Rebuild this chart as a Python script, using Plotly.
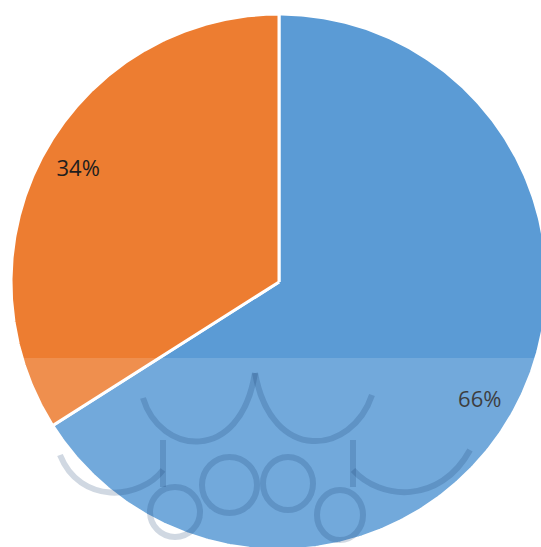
import numpy as np
import plotly.graph_objects as go

labels = ["Blue share", "Orange share"]
values = [66, 34]
colors = ["#5B9BD5", "#ED7D31"]
text_labels = ["66%", "34%"]
label_dy = [9, -1]

W, H = 541, 547
cx, cy, R = 279, 282, 268

fig = go.Figure()
total = sum(values)
start = 0.0
for lab, v, col, tl, dy in zip(labels, values, colors, text_labels, label_dy):
    frac = v / total
    t = np.linspace(start, start + frac, 400) * 2 * np.pi
    xs = np.concatenate([[cx], cx + R * np.sin(t), [cx]])
    ys = np.concatenate([[cy], cy - R * np.cos(t), [cy]])
    fig.add_trace(go.Scatter(x=xs, y=ys, mode="lines", fill="toself",
                             fillcolor=col, line=dict(color="white", width=3),
                             hoverinfo="skip", showlegend=False, name=lab))
    mid = (start + frac / 2) * 2 * np.pi
    rl = 0.855 * R
    fig.add_trace(go.Scatter(x=[cx + rl * np.sin(mid)], y=[cy - rl * np.cos(mid) + dy],
                             mode="text", text=[tl],
                             textfont=dict(family="Open Sans, Noto Sans", size=22, color="#1e1e1e"),
                             hoverinfo="skip", showlegend=False))
    start += frac

# translucent white band over the lower part
fig.add_shape(type="rect", xref="x", yref="y", x0=0, x1=W, y0=358, y1=H,
              fillcolor="rgba(255,255,255,0.14)", line=dict(width=0), layer="above")

# faint decorative watermark
wm = dict(color="rgba(20,60,110,0.2)", width=6)
paths = [
    "M143,398 C160,455 240,465 255,373",
    "M255,373 C272,465 352,455 372,395",
    "M163,440 L163,487",
    "M353,440 L353,487",
    "M60,455 C80,505 140,500 163,470",
    "M353,470 C380,500 440,505 470,450",
]
for p in paths:
    fig.add_shape(type="path", xref="x", yref="y", path=p, line=wm, layer="above")
for (x0, y0, x1, y1) in [(202, 457, 257, 513), (263, 457, 313, 510),
                         (150, 487, 200, 537), (317, 490, 363, 540)]:
    fig.add_shape(type="circle", xref="x", yref="y", x0=x0, y0=y0, x1=x1, y1=y1,
                  line=wm, layer="above")

fig.update_layout(
    width=W, height=H, margin=dict(l=0, r=0, t=0, b=0),
    paper_bgcolor="white", plot_bgcolor="white",
    xaxis=dict(range=[0, W], visible=False, fixedrange=True),
    yaxis=dict(range=[H, 0], visible=False, fixedrange=True),
)
fig.write_html(
    "out.html",
    config={"displayModeBar": False},
    post_script="document.body.style.margin='0';document.body.style.overflow='hidden';",
)
